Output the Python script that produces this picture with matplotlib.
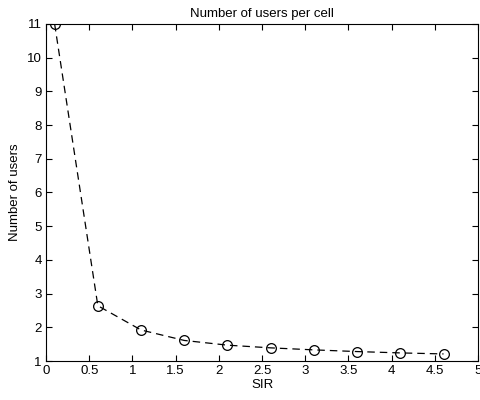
import matplotlib

matplotlib.use("Agg")
import matplotlib.pyplot as plt

# SIR vs. users per cell
sir = [0.1, 0.6, 1.1, 1.6, 2.1, 2.6, 3.1, 3.6, 4.1, 4.6]
users = [11.0, 2.64, 1.92, 1.61, 1.47, 1.39, 1.33, 1.28, 1.24, 1.21]

plt.rcParams["font.family"] = ["Liberation Sans", "DejaVu Sans"]
plt.rcParams["font.size"] = 9.5

fig = plt.figure(figsize=(4.81, 4.0), dpi=100)
ax = fig.add_axes([0.0956, 0.0975, 0.8984, 0.8425])
ax.plot(sir, users, "k--", marker="o", mfc="none", mec="k", ms=7, lw=0.9,
        mew=0.9, dashes=(6, 4))
ax.set_xlim(0, 5)
ax.set_ylim(1, 11)
ax.set_xticks([0, 0.5, 1, 1.5, 2, 2.5, 3, 3.5, 4, 4.5, 5])
ax.set_xticklabels(["0", "0.5", "1", "1.5", "2", "2.5", "3", "3.5", "4", "4.5", "5"])
ax.set_yticks(range(1, 12))
ax.tick_params(direction="in", top=True, right=True, length=4, width=0.8, pad=3)
for s in ax.spines.values():
    s.set_linewidth(0.8)
ax.set_xlabel("SIR", labelpad=1)
ax.set_ylabel("Number of users", labelpad=4)
ax.set_title("Number of users per cell", fontsize=9.5, pad=5)

fig.savefig("out.png", dpi=100)
